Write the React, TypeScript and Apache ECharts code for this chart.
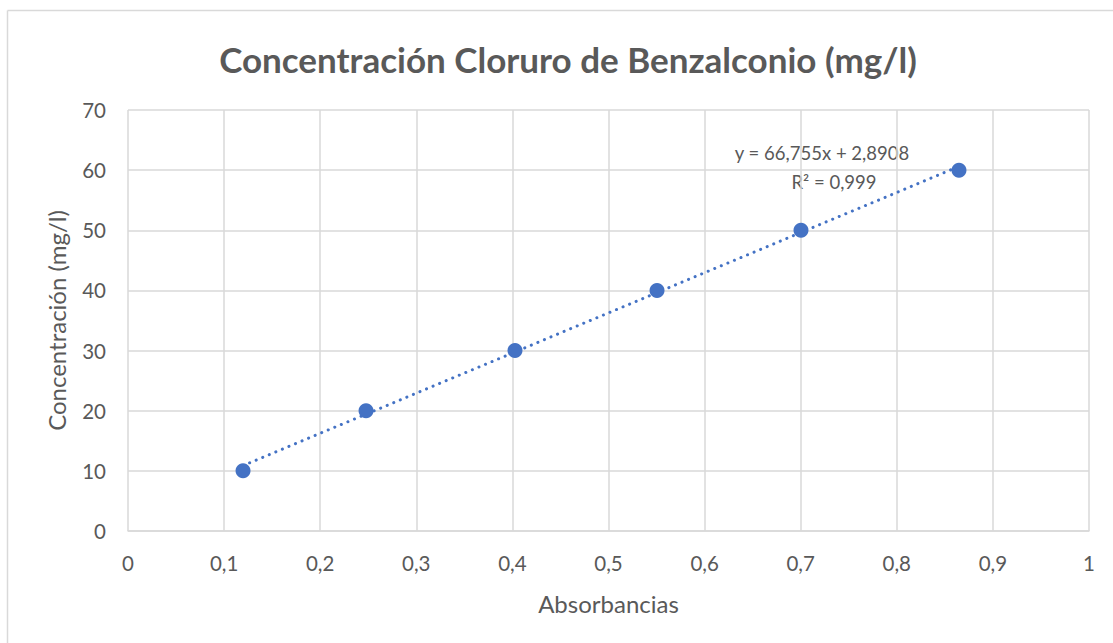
import React, { useEffect, useRef } from "react";
import * as echarts from "echarts";

const absorbancias = [0.1197, 0.2477, 0.4027, 0.5505, 0.7003, 0.8647];
const concentraciones = [10, 20, 30, 40, 50, 60];
const slope = 66.755;
const intercept = 2.8908;
const equationLabel = "y = 66,755x + 2,8908";
const r2Label = "R² = 0,999";
const titleText = "Concentración Cloruro de Benzalconio (mg/l)";
const xName = "Absorbancias";
const yName = "Concentración (mg/l)";

const FONT = "Lato, 'Open Sans', sans-serif";
const GREY = "#595959";
const BLUE = "#4472C4";

function fmt(v: number) {
  const s = Number(v.toFixed(1)).toString();
  return s.replace(".", ",");
}

export default function App() {
  const ref = useRef<HTMLDivElement>(null);
  useEffect(() => {
    if (!ref.current) return;
    const chart = echarts.init(ref.current, undefined, { renderer: "svg" });
    const xMin = Math.min(...absorbancias);
    const xMax = Math.max(...absorbancias);
    const trend = [
      [xMin, slope * xMin + intercept],
      [xMax, slope * xMax + intercept],
    ];
    chart.setOption({
      animation: false,
      backgroundColor: "#ffffff",
      title: {
        text: titleText,
        left: 563,
        top: 36,
        textAlign: "center",
        textStyle: { fontFamily: FONT, fontSize: 35, fontWeight: "bold", color: GREY },
      },
      grid: { left: 128, right: 24, top: 110, bottom: 112, containLabel: false },
      xAxis: {
        type: "value",
        min: 0,
        max: 1,
        interval: 0.1,
        name: xName,
        nameLocation: "middle",
        nameGap: 60,
        nameTextStyle: { fontFamily: FONT, fontSize: 24, color: GREY },
        axisLine: { show: true, lineStyle: { color: "#d9d9d9", width: 1.5 } },
        axisTick: { show: false },
        axisLabel: { formatter: fmt, fontFamily: FONT, fontSize: 20.5, color: GREY, margin: 21 },
        splitLine: { show: true, lineStyle: { color: "#d9d9d9", width: 1.5 } },
      },
      yAxis: {
        type: "value",
        min: 0,
        max: 70,
        interval: 10,
        name: yName,
        nameLocation: "middle",
        nameGap: 60,
        nameTextStyle: { fontFamily: FONT, fontSize: 24, color: GREY },
        axisLine: { show: false },
        axisTick: { show: false },
        axisLabel: { fontFamily: FONT, fontSize: 20.5, color: GREY, margin: 22 },
        splitLine: { show: true, lineStyle: { color: "#d9d9d9", width: 1.5 } },
      },
      series: [
        {
          type: "line",
          data: trend,
          symbol: "none",
          lineStyle: { color: BLUE, width: 3, type: [0.1, 7], cap: "round" },
          z: 2,
        },
        {
          type: "scatter",
          data: absorbancias.map((x, i) => [x, concentraciones[i]]),
          symbol: "circle",
          symbolSize: 15,
          itemStyle: { color: BLUE, opacity: 1 },
          z: 3,
        },
      ],
      graphic: [
        {
          type: "line",
          shape: { x1: 7.5, y1: 10.5, x2: 1113, y2: 10.5 },
          style: { stroke: "#d9d9d9", lineWidth: 1.5 },
        },
        {
          type: "line",
          shape: { x1: 7.5, y1: 10.5, x2: 7.5, y2: 643 },
          style: { stroke: "#d9d9d9", lineWidth: 1.5 },
        },
        {
          type: "text",
          x: 822,
          y: 153,
          style: {
            text: equationLabel,
            fontFamily: FONT,
            fontSize: 18.5,
            fill: GREY,
            textAlign: "center",
            textVerticalAlign: "middle",
          },
        },
        {
          type: "text",
          x: 834,
          y: 182,
          style: {
            text: r2Label,
            fontFamily: FONT,
            fontSize: 18.5,
            fill: GREY,
            textAlign: "center",
            textVerticalAlign: "middle",
          },
        },
      ],
    });
    return () => chart.dispose();
  }, []);
  return (
    <div
      ref={ref}
      style={{ position: "fixed", left: 0, top: 0, width: 1113, height: 643 }}
    />
  );
}
